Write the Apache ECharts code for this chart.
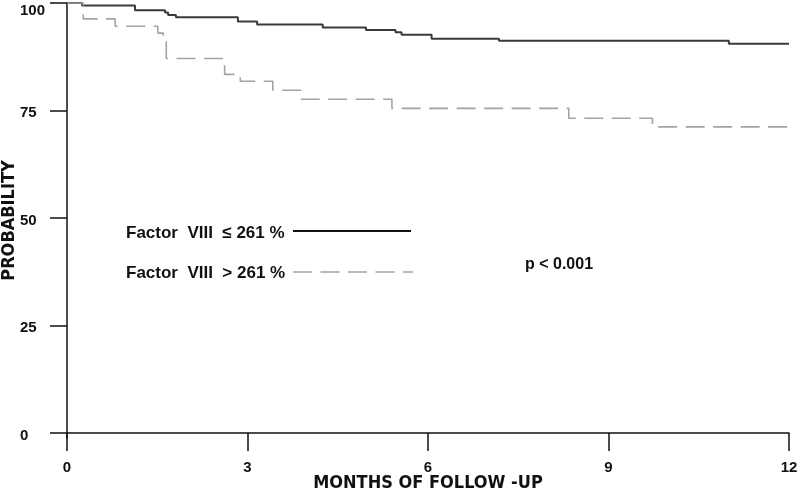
<!DOCTYPE html>
<html>
<head>
<meta charset="utf-8">
<script src="https://cdn.jsdelivr.net/npm/echarts@6/dist/echarts.min.js"></script>
<style>
html,body{margin:0;padding:0;background:#fff;}
#chart{width:800px;height:491px;}
</style>
</head>
<body>
<div id="chart"></div>
<script>
// ---- data ----
var xTicks = [0, 3, 6, 9, 12];
var yTicks = [0, 25, 50, 75, 100];
var lowTimes = [0, 0.25, 1.13, 1.63, 1.68, 1.81, 2.84, 3.16, 4.25, 4.97, 5.46, 5.56, 6.06, 7.18, 11.0, 12];
var lowProb  = [100, 99.4, 98.3, 97.8, 97.2, 96.7, 95.7, 95.0, 94.3, 93.7, 93.2, 92.6, 91.7, 91.2, 90.5, 90.5];
var highTimes = [0, 0.27, 0.80, 1.51, 1.60, 1.65, 2.62, 2.88, 3.42, 3.90, 5.40, 8.34, 9.73, 12];
var highProb  = [100, 96.3, 94.6, 93.0, 91.0, 87.1, 83.4, 81.8, 79.7, 77.6, 75.5, 73.2, 71.2, 71.2];
var legendLabels = ['Factor  VIII  \u2264 261 %', 'Factor  VIII  > 261 %'];
var pText = 'p < 0.001';
var xName = 'MONTHS OF FOLLOW -UP';
var yName = 'PROBABILITY';

function zip(a, b) { return a.map(function (v, i) { return [v, b[i]]; }); }

var narrow = '"Liberation Sans Narrow", "DejaVu Sans Condensed", "Arial Narrow", sans-serif';
var sans = '"Liberation Sans", Arial, sans-serif';

var chart = echarts.init(document.getElementById('chart'), null, {renderer: 'canvas'});
chart.setOption({
  animation: false,
  backgroundColor: '#ffffff',
  grid: {left: 67, right: 11, top: 3, bottom: 53, containLabel: false, outerBoundsMode: 'none'},
  xAxis: {
    type: 'value', min: 0, max: 12, interval: 3,
    name: xName, nameLocation: 'middle', nameGap: 36, nameMoveOverlap: false,
    nameTextStyle: {fontFamily: narrow, fontWeight: 'bold', fontSize: 18, color: '#111'},
    axisLine: {show: true, lineStyle: {color: '#111', width: 1.5}},
    axisTick: {show: true, length: 18, lineStyle: {color: '#111', width: 1.5}, customValues: xTicks},
    axisLabel: {fontFamily: sans, fontWeight: 'bold', fontSize: 15, color: '#111', margin: 22, customValues: xTicks},
    splitLine: {show: false}
  },
  yAxis: {
    type: 'value', min: -1.16, max: 100, offset: 3,
    name: yName, nameLocation: 'middle', nameGap: 46, nameMoveOverlap: false,
    nameTextStyle: {fontFamily: narrow, fontWeight: 'bold', fontSize: 18, color: '#111'},
    axisLine: {show: true, lineStyle: {color: '#111', width: 1.5}},
    axisTick: {show: true, length: 17, lineStyle: {color: '#111', width: 1.5}, customValues: yTicks},
    axisLabel: {fontFamily: sans, fontWeight: 'bold', fontSize: 15, color: '#111', margin: 44, align: 'left',
      padding: [5, 0, 0, 0], customValues: yTicks,
      formatter: function (v) { return v === 100 ? '{top|' + v + '}' : String(v); },
      rich: {top: {fontFamily: sans, fontWeight: 'bold', fontSize: 15, color: '#111', padding: [10, 0, 0, 0]}}},
    splitLine: {show: false}
  },
  series: [
    {
      type: 'line', name: legendLabels[0], step: 'end', showSymbol: false, silent: true,
      data: zip(lowTimes, lowProb),
      lineStyle: {color: '#3a3a3a', width: 2}
    },
    {
      type: 'line', name: legendLabels[1], step: 'end', showSymbol: false, silent: true,
      data: zip(highTimes, highProb),
      lineStyle: {color: '#a3a3a3', width: 1.6, type: [19, 8.5]}
    }
  ],
  graphic: [
    {type: 'text', left: 126, top: 225, style: {text: legendLabels[0], font: 'bold 17px ' + sans, fill: '#111'}},
    {type: 'text', left: 126, top: 265, style: {text: legendLabels[1], font: 'bold 17px ' + sans, fill: '#111'}},
    {type: 'line', shape: {x1: 293, y1: 231, x2: 411, y2: 231}, style: {stroke: '#111', lineWidth: 2}},
    {type: 'line', shape: {x1: 293, y1: 272, x2: 413, y2: 272}, style: {stroke: '#a3a3a3', lineWidth: 1.6, lineDash: [19, 8.5]}},
    {type: 'text', left: 525, top: 257, style: {text: pText, font: 'bold 16px ' + sans, fill: '#111'}}
  ]
});
</script>
</body>
</html>
